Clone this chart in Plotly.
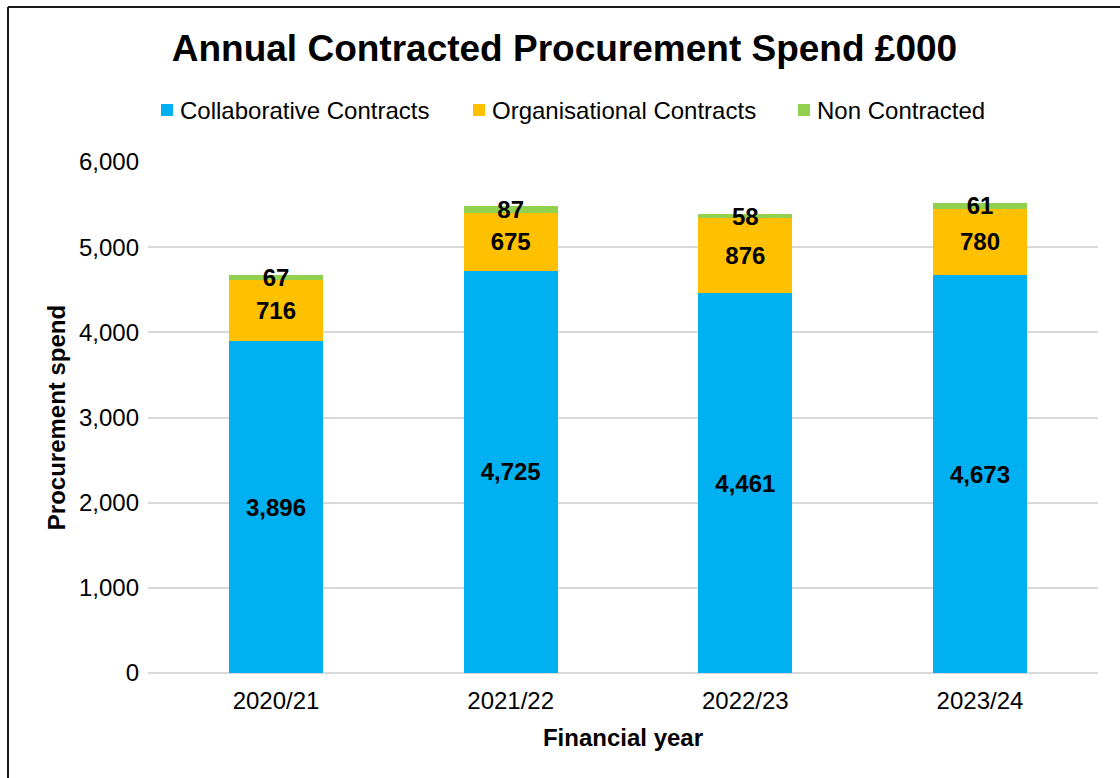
import plotly.graph_objects as go

years = ["2020/21", "2021/22", "2022/23", "2023/24"]
collaborative = [3896, 4725, 4461, 4673]
organisational = [716, 675, 876, 780]
non_contracted = [67, 87, 58, 61]

series_names = ["Collaborative Contracts", "Organisational Contracts", "Non Contracted"]
series_values = [collaborative, organisational, non_contracted]
series_colors = ["#00B0F0", "#FFC000", "#92D050"]

FONT = "Liberation Sans, Arial, sans-serif"

W, H = 1120, 778
L, R, T, B = 148, 22, 162, 105
pw, ph = W - L - R, H - T - B


def px_x(x):
    return (x - L) / pw


def px_y(y):
    return (H - B - y) / ph


fig = go.Figure()
for name, vals, color in zip(series_names, series_values, series_colors):
    fig.add_trace(go.Bar(
        x=years, y=vals, name=name,
        marker=dict(color=color, line=dict(width=0)),
        texttemplate="%{y:,.0f}",
        textposition="inside",
        insidetextanchor="middle",
        textangle=0,
        textfont=dict(family=FONT, size=24, color="black", weight="bold"),
        cliponaxis=False,
        showlegend=False,
    ))

# Legend row: coloured squares with labels beside them
legend_icon_x = [161, 473, 798]
legend_y = 110
shapes = []
annotations = []
for name, color, ix in zip(series_names, series_colors, legend_icon_x):
    shapes.append(dict(
        type="rect", xref="paper", yref="paper",
        x0=px_x(ix), x1=px_x(ix + 12),
        y0=px_y(legend_y + 6), y1=px_y(legend_y - 6),
        fillcolor=color, line=dict(width=0),
    ))
    annotations.append(dict(
        text=name, xref="paper", yref="paper",
        x=px_x(ix + 17), y=px_y(legend_y),
        xanchor="left", yanchor="middle", showarrow=False,
        font=dict(family=FONT, size=24, color="black"),
    ))

# Chart frame (left and top edges)
shapes += [
    dict(type="line", xref="paper", yref="paper",
         x0=px_x(8), x1=px_x(8), y0=px_y(7), y1=px_y(H + 5),
         line=dict(color="#1a1a1a", width=2)),
    dict(type="line", xref="paper", yref="paper",
         x0=px_x(8), x1=px_x(W + 5), y0=px_y(7), y1=px_y(7),
         line=dict(color="#1a1a1a", width=2)),
]

fig.update_layout(
    width=W, height=H,
    barmode="stack",
    bargap=0.6,
    margin=dict(l=L, r=R, t=T, b=B),
    paper_bgcolor="white",
    plot_bgcolor="white",
    font=dict(family=FONT, color="black"),
    uniformtext=dict(minsize=24, mode="show"),
    showlegend=False,
    title=dict(
        text="<b>Annual Contracted Procurement Spend £000</b>",
        font=dict(family=FONT, size=37, color="black"),
        x=0.504, xanchor="center", y=1 - 48 / H, yanchor="middle",
    ),
    xaxis=dict(
        title=dict(text="<b>Financial year</b>", font=dict(family=FONT, size=24), standoff=16),
        tickfont=dict(family=FONT, size=24, color="black"),
        range=[-0.5455, 3.503],
        ticklabelstandoff=11,
        showline=False, ticks="",
    ),
    yaxis=dict(
        title=dict(text="<b>Procurement spend</b>", font=dict(family=FONT, size=24), standoff=6),
        range=[0, 6000], dtick=1000, tickformat=",",
        tickfont=dict(family=FONT, size=24, color="black"),
        ticklabelstandoff=8,
        gridcolor="#D9D9D9", gridwidth=2,
        zeroline=True, zerolinecolor="#D9D9D9", zerolinewidth=2,
        showline=False, ticks="",
    ),
    shapes=shapes,
    annotations=annotations,
)

fig.write_html("out.html")
